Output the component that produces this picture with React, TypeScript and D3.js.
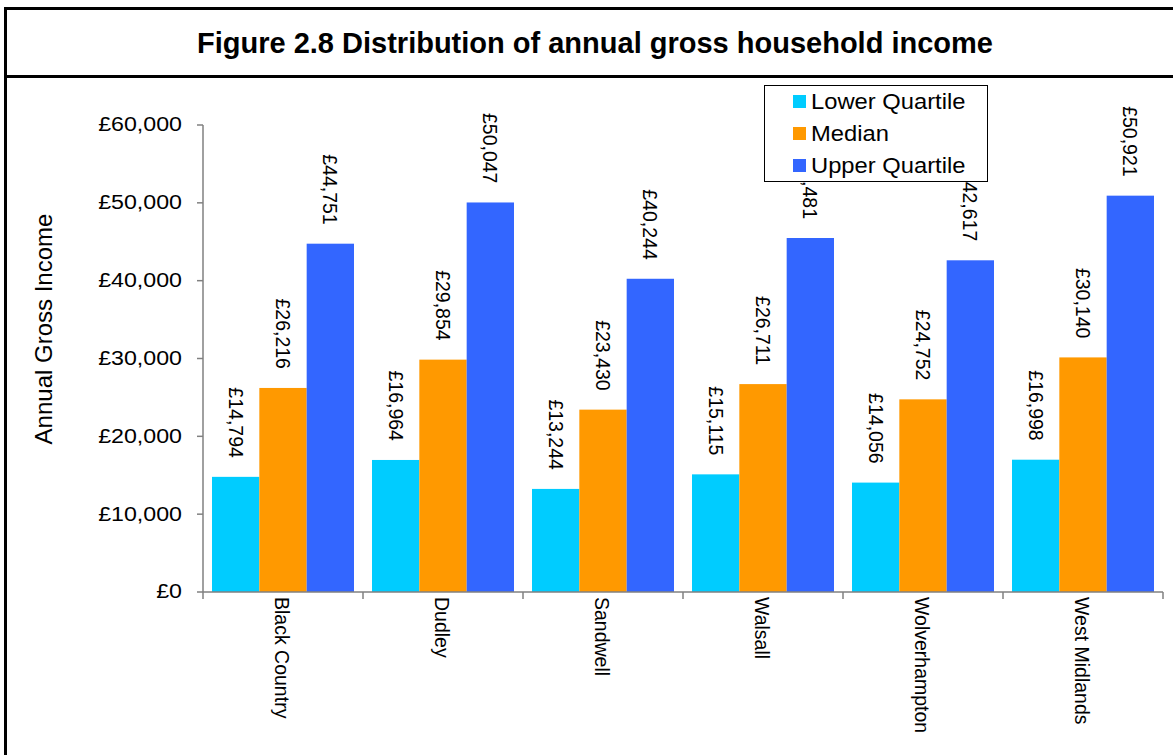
import React from "react";
import * as d3 from "d3";

const categories = ["Black Country", "Dudley", "Sandwell", "Walsall", "Wolverhampton", "West Midlands"];
const lowerQuartile = [14794, 16964, 13244, 15115, 14056, 16998];
const median = [26216, 29854, 23430, 26711, 24752, 30140];
const upperQuartile = [44751, 50047, 40244, 45481, 42617, 50921];
const seriesNames = ["Lower Quartile", "Median", "Upper Quartile"];
const seriesColors = ["#00CCFF", "#FF9900", "#3366FF"];
const yTicks = [0, 10000, 20000, 30000, 40000, 50000, 60000];
const titleText = "Figure 2.8 Distribution of annual gross household income";
const yAxisTitle = "Annual Gross Income";

const W = 1173;
const H = 755;
const FONT = "'Liberation Sans', Arial, sans-serif";

export default function App() {
  const seriesValues = [lowerQuartile, median, upperQuartile];
  const plotLeft = 203;
  const plotRight = 1163;
  const plotTop = 125;
  const plotBottom = 592;

  const y = d3.scaleLinear().domain([0, 60000]).range([plotBottom, plotTop]);
  const x = d3
    .scaleBand<string>()
    .domain(categories)
    .range([plotLeft, plotRight])
    .paddingInner(0.1125)
    .paddingOuter(0.05625);
  const xs = d3
    .scaleBand<string>()
    .domain(seriesNames)
    .range([0, x.bandwidth()])
    .padding(0);
  const step = x.step();
  const fmt = (v: number) => "£" + d3.format(",")(v);
  const axisColor = "#808080";

  const boundaries = d3.range(categories.length + 1).map((i) => plotLeft + i * step);

  return (
    <svg
      width={W}
      height={H}
      style={{ position: "absolute", left: 0, top: 0, background: "#fff" }}
      fontFamily={FONT}
    >
      <rect x={0} y={0} width={W} height={H} fill="#fff" />
      {/* outer frame */}
      <rect x={5.5} y={8.5} width={1300} height={900} fill="none" stroke="#000" strokeWidth={3} />
      <line x1={5} x2={W} y1={76.5} y2={76.5} stroke="#000" strokeWidth={3} />
      <text x={595} y={53} textAnchor="middle" fontSize={29} fontWeight="bold" fill="#000">
        {titleText}
      </text>

      {/* y axis title */}
      <text
        transform={`translate(43,329) rotate(-90)`}
        textAnchor="middle"
        dominantBaseline="central"
        fontSize={24}
        fill="#000"
      >
        {yAxisTitle}
      </text>

      {/* bars */}
      {categories.map((cat, ci) => (
        <g key={cat} transform={`translate(${x(cat)},0)`}>
          {seriesNames.map((s, si) => {
            const v = seriesValues[si][ci];
            return (
              <rect
                key={s}
                x={xs(s)}
                y={y(v)}
                width={xs.bandwidth()}
                height={y(0) - y(v)}
                fill={seriesColors[si]}
              />
            );
          })}
        </g>
      ))}

      {/* data labels */}
      {categories.map((cat, ci) => (
        <g key={cat + "-lbl"}>
          {seriesNames.map((s, si) => {
            const v = seriesValues[si][ci];
            const cx = (x(cat) as number) + (xs(s) as number) + xs.bandwidth() / 2;
            const ty = y(v) - 19;
            return (
              <text
                key={s}
                transform={`translate(${cx},${ty}) rotate(90)`}
                textAnchor="end"
                dominantBaseline="central"
                fontSize={19.5}
                fill="#000"
              >
                {fmt(v)}
              </text>
            );
          })}
        </g>
      ))}

      {/* y axis */}
      <line x1={plotLeft} x2={plotLeft} y1={plotTop} y2={plotBottom} stroke={axisColor} strokeWidth={1.5} />
      {yTicks.map((t) => (
        <g key={t}>
          <line x1={plotLeft - 6} x2={plotLeft} y1={y(t)} y2={y(t)} stroke={axisColor} strokeWidth={1.5} />
          <text
            transform={`translate(${plotLeft - 21},${y(t)}) scale(1.19,1)`}
            textAnchor="end"
            dominantBaseline="central"
            fontSize={19.5}
            fill="#000"
          >
            {fmt(t)}
          </text>
        </g>
      ))}

      {/* x axis */}
      <line x1={plotLeft} x2={plotRight} y1={plotBottom} y2={plotBottom} stroke={axisColor} strokeWidth={1.5} />
      {boundaries.map((bx, i) => (
        <line key={i} x1={bx} x2={bx} y1={plotBottom} y2={plotBottom + 7} stroke={axisColor} strokeWidth={1.5} />
      ))}
      {categories.map((cat) => (
        <text
          key={cat + "-cat"}
          transform={`translate(${(x(cat) as number) + x.bandwidth() / 2 - 1},${plotBottom + 5}) rotate(90)`}
          textAnchor="start"
          dominantBaseline="central"
          fontSize={19.5}
          fill="#000"
        >
          {cat}
        </text>
      ))}

      {/* legend */}
      <g transform="translate(764.5,85.5)">
        <rect x={0} y={0} width={223} height={96} fill="#fff" stroke="#000" strokeWidth={1} />
        {seriesNames.map((s, si) => (
          <g key={s} transform={`translate(0,${16 + si * 32})`}>
            <rect x={28.5} y={-6.5} width={13} height={13} fill={seriesColors[si]} />
            <text
              transform="translate(46.5,0) scale(1.1,1)"
              dominantBaseline="central"
              fontSize={21.6}
              fill="#000"
            >
              {s}
            </text>
          </g>
        ))}
      </g>
    </svg>
  );
}
